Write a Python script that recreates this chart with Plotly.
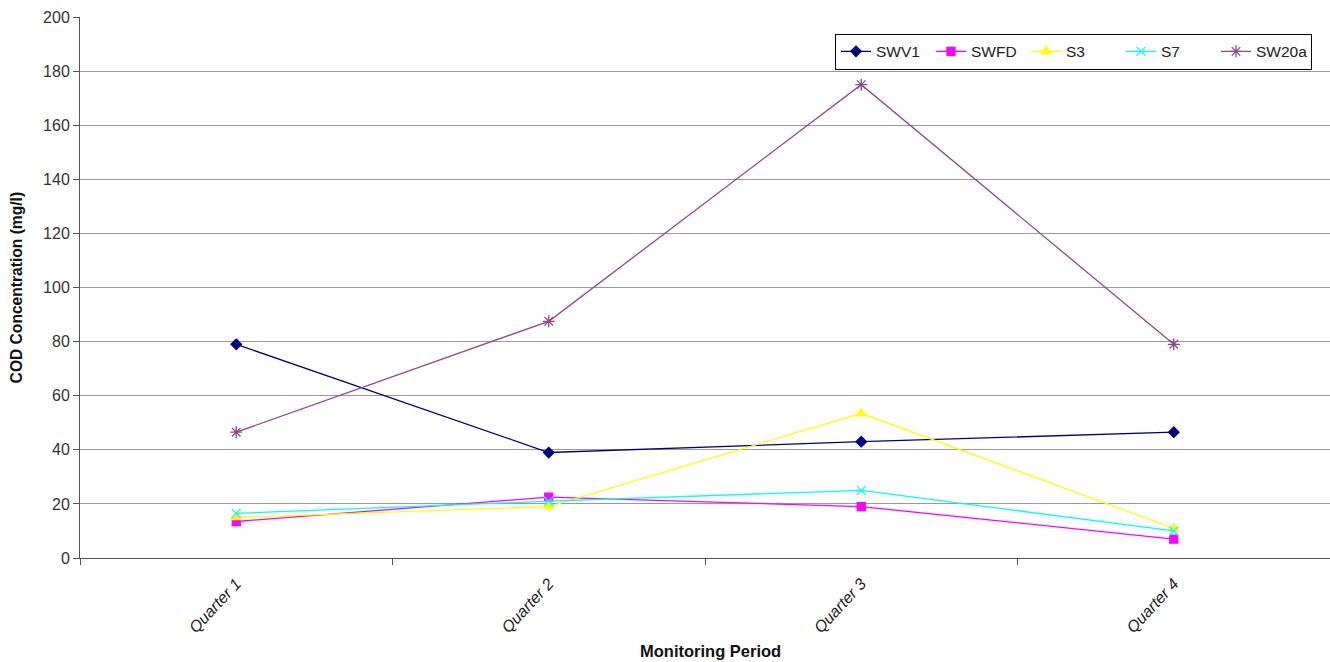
import plotly.graph_objects as go

# Quarterly COD readings per monitoring station (mg/l)
quarters = ["Quarter 1", "Quarter 2", "Quarter 3", "Quarter 4"]
swv1 = [79, 39, 43, 46.5]
swfd = [13.5, 22.5, 19, 7]
s3 = [15, 19, 53.5, 11]
s7 = [16.5, 21, 25, 10]
sw20a = [46.5, 87.5, 175, 79]

series = [
    ("SWV1", swv1, "#000080", "diamond", 8),
    ("SWFD", swfd, "#FF00FF", "square", 8),
    ("S3", s3, "#FFFF00", "triangle-up", 9),
    ("S7", s7, "#00FFFF", "x-thin-open", 9),
    ("SW20a", sw20a, "#8E4A8E", "asterisk-open", 10),
]

fig = go.Figure()
for name, vals, color, symbol, size in series:
    fig.add_trace(go.Scatter(
        x=quarters, y=vals, name=name, mode="lines+markers",
        line=dict(color=color, width=1.3),
        marker=dict(symbol=symbol, size=size, color=color,
                    line=dict(color=color, width=1.3)),
    ))

font_family = "Liberation Sans, Arial, sans-serif"

fig.update_layout(
    width=1330, height=662,
    margin=dict(l=80, r=0, t=17, b=104),
    paper_bgcolor="white", plot_bgcolor="white",
    font=dict(family=font_family, size=14, color="#222"),
    showlegend=True,
    legend=dict(
        orientation="h", x=0.9856, xanchor="right", y=0.969, yanchor="top",
        bgcolor="white", bordercolor="#000", borderwidth=1,
        font=dict(size=15.5, color="#222"), itemwidth=30,
        entrywidth=50, entrywidthmode="pixels",
    ),
    xaxis=dict(
        type="category", range=[-0.5, 3.5], tickson="boundaries",
        ticks="outside", ticklen=6, tickcolor="#555",
        showline=True, linecolor="#555", linewidth=1,
        showgrid=False, tickangle=-47, ticklabelstandoff=9,
        tickfont=dict(family=font_family, size=16, style="italic", color="#222"),
    ),
    yaxis=dict(
        range=[0, 200], dtick=20, ticks="outside", ticklen=6, tickcolor="#555",
        showline=True, linecolor="#555", linewidth=1,
        showgrid=True, gridcolor="#9a9a9a", gridwidth=1,
        zeroline=False,
        tickfont=dict(family=font_family, size=16, color="#333"),
    ),
    annotations=[
        dict(text="<b>COD Concentration (mg/l)</b>", textangle=-90,
             xref="paper", yref="paper", x=-0.0505, xanchor="center",
             y=0.5, yanchor="middle", showarrow=False,
             font=dict(family=font_family, size=15.6, color="#111")),
        dict(text="<b>Monitoring Period</b>",
             xref="paper", yref="paper", x=0.5042, xanchor="center",
             y=-0.1725, yanchor="middle", showarrow=False,
             font=dict(family=font_family, size=16.5, color="#111")),
    ],
)

fig.write_html("out.html")
